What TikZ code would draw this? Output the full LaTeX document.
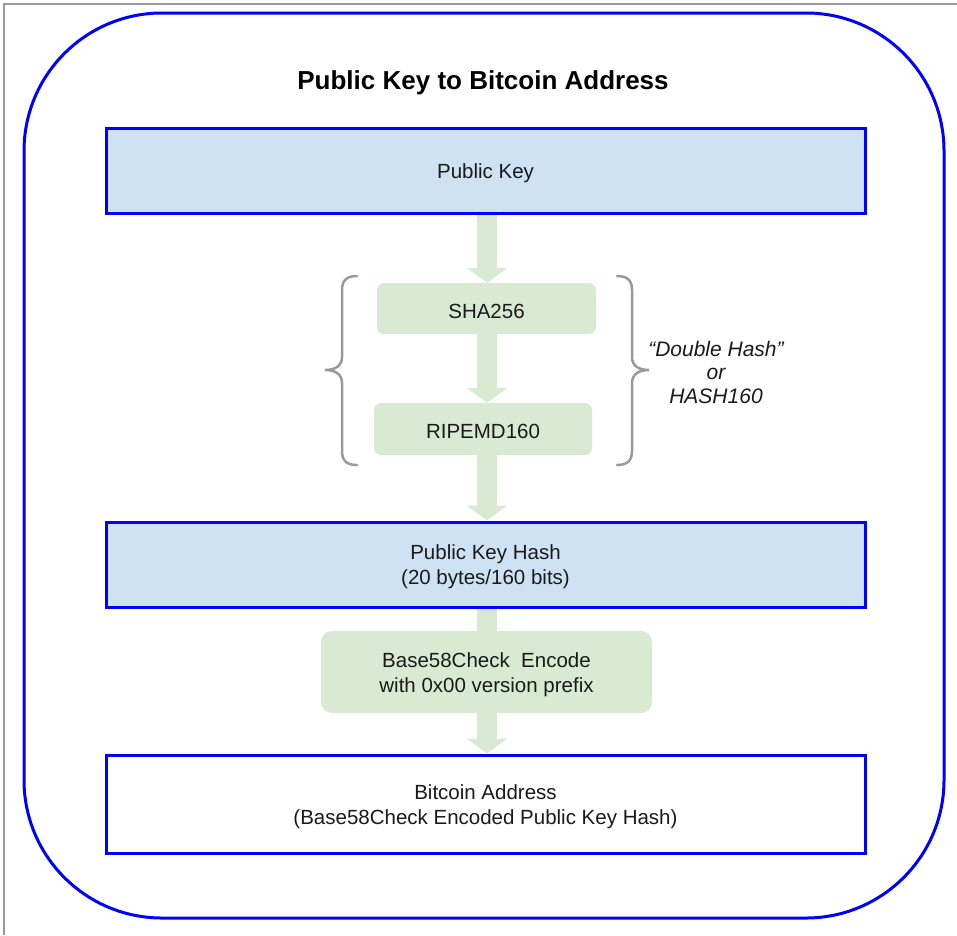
\documentclass[tikz,border=0pt]{standalone}
\usepackage{fontspec}
\setmainfont{Liberation Sans}
\usetikzlibrary{arrows.meta,backgrounds}
\definecolor{boxblue}{HTML}{CFE2F3}
\definecolor{edgeblue}{HTML}{0000FF}
\definecolor{boxgreen}{HTML}{D9EAD3}
\definecolor{bracegray}{HTML}{999999}
\definecolor{txt}{HTML}{1A1A1A}
\tikzset{
  bluebox/.style={draw=edgeblue, line width=3pt, fill=boxblue, minimum width=759pt, minimum height=85pt, inner sep=0pt},
  whitebox/.style={bluebox, fill=white, minimum height=98pt},
  greenbox/.style={fill=boxgreen, rounded corners=7pt, inner sep=0pt},
  boxtext/.style={align=center, text=txt, inner sep=0pt, yshift=-2.5pt, font=\fontsize{20.5}{25}\selectfont},
  arr/.style={draw=boxgreen, line width=20pt, -{Triangle[width=40pt,length=15pt]}},
  shaft/.style={draw=boxgreen, line width=20pt},
  brace/.style={draw=bracegray, line width=2.5pt, line cap=round},
  sidetext/.style={align=center, text=txt, font=\itshape\fontsize{21}{23.5}\selectfont}
}
\begin{document}
\begin{tikzpicture}[x=1pt,y=-1pt]
\useasboundingbox (0,0) rectangle (957,935);
% screenshot frame (top and left only)
\draw[draw=gray!80, line width=1.5pt] (4,935) -- (4,4) -- (957,4);
% outer rounded frame
\draw[draw=edgeblue, line width=3pt, rounded corners=138pt] (24,13) rectangle (944,918);
% title
\node[font=\bfseries\fontsize{26}{30}\selectfont] (title) at (483,83) {Public Key to Bitcoin Address};
% boxes
\node[bluebox] (pk) at (485.5,170.5) {};
\node[greenbox, minimum width=219pt, minimum height=51pt] (sha) at (486.5,308.5) {};
\node[greenbox, minimum width=218pt, minimum height=52pt] (rip) at (483,429) {};
\node[bluebox] (pkh) at (485.5,564.5) {};
\node[greenbox, rounded corners=11pt, minimum width=331pt, minimum height=82pt] (b58) at (486.5,672) {};
\node[whitebox] (addr) at (485.5,804) {};
% texts
\node[boxtext] (pkt) at (pk.center) {Public Key};
\node[boxtext] (shat) at (sha.center) {SHA256};
\node[boxtext] (ript) at (rip.center) {RIPEMD160};
\node[boxtext] (pkht) at (pkh.center) {Public Key Hash\\(20 bytes/160 bits)};
\node[boxtext] (b58t) at (b58.center) {Base58Check~ Encode\\with 0x00 version prefix};
\node[boxtext] (addrt) at (addr.center) {Bitcoin Address\\(Base58Check Encoded Public Key Hash)};
% arrows
\begin{pgfonlayer}{background}
\draw[arr] (pk.south -| 487,0) -- (sha.north -| 487,0);
\draw[arr] (sha.south -| 487,0) -- (rip.north -| 487,0);
\draw[arr] (rip.south -| 487,0) -- (pkh.north -| 487,0);
\draw[shaft] (pkh.south -| 487,0) -- (b58.north -| 487,0);
\draw[arr] (b58.south -| 487,0) -- (addr.north -| 487,0);
\end{pgfonlayer}
% braces
\coordinate (lt) at (357,276);
\coordinate (lb) at (357,465);
\coordinate (rt) at (617,276);
\coordinate (rb) at (617,465);
\draw[brace] (lt) .. controls (347,276) and (342,280) .. (342,290) -- (342,357)
  .. controls (342,366) and (335,370) .. (325,370)
  .. controls (335,370) and (342,374) .. (342,383) -- (342,451)
  .. controls (342,461) and (347,465) .. (lb);
\draw[brace] (rt) .. controls (627,276) and (632,280) .. (632,290) -- (632,357)
  .. controls (632,366) and (639,370) .. (649,370)
  .. controls (639,370) and (632,374) .. (632,383) -- (632,451)
  .. controls (632,461) and (627,465) .. (rb);
\node[sidetext] (dh) at (716,372) {“Double Hash”\\or\\HASH160};
\end{tikzpicture}
\end{document}
